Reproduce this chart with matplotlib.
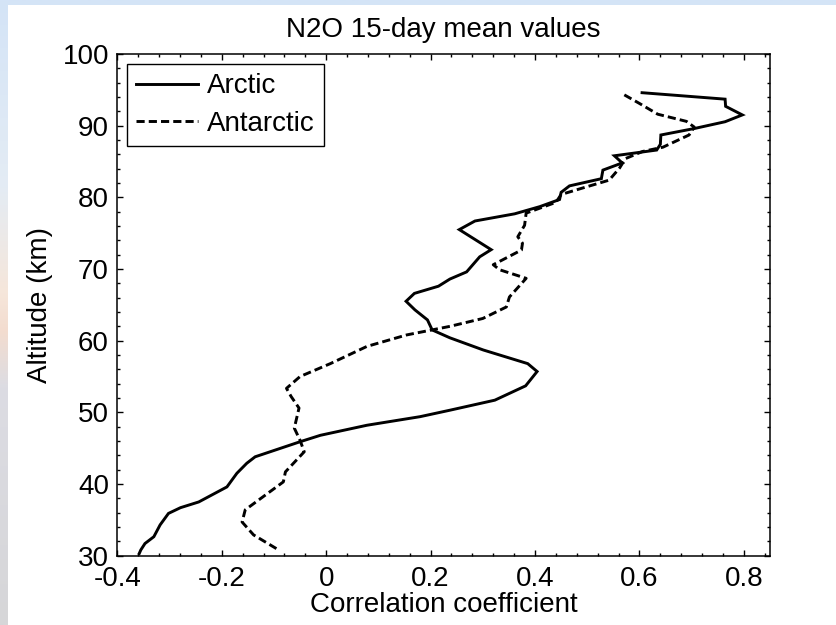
import numpy as np
import matplotlib
matplotlib.use("Agg")
import matplotlib.pyplot as plt
from matplotlib.colors import LinearSegmentedColormap
from matplotlib.patches import Rectangle
from matplotlib.ticker import MultipleLocator, FixedLocator, FixedFormatter

plt.rcParams['font.family'] = ['Liberation Sans', 'DejaVu Sans']

# Correlation profiles (correlation coefficient vs altitude in km)
arctic_corr = [0.605, 0.764, 0.765, 0.797, 0.764, 0.705, 0.641, 0.640, 0.633, 0.552,
               0.567, 0.530, 0.527, 0.466, 0.450, 0.447, 0.409, 0.361, 0.285, 0.255,
               0.316, 0.294, 0.269, 0.237, 0.215, 0.169, 0.153, 0.170, 0.194, 0.203,
               0.237, 0.301, 0.386, 0.404, 0.382, 0.323, 0.237, 0.180, 0.078, -0.011,
               -0.050, -0.136, -0.152, -0.171, -0.190, -0.244, -0.279, -0.302, -0.318,
               -0.330, -0.347, -0.355, -0.358]
arctic_alt = [94.6, 93.7, 92.7, 91.5, 90.55, 89.6, 88.7, 87.4, 86.6, 85.8,
              84.8, 83.8, 82.6, 81.6, 80.7, 79.7, 78.7, 77.7, 76.7, 75.5,
              72.7, 71.7, 69.6, 68.6, 67.6, 66.6, 65.5, 64.3, 62.9, 61.5,
              60.4, 58.7, 56.8, 55.7, 53.7, 51.7, 50.3, 49.4, 48.2, 46.8,
              45.9, 43.8, 42.9, 41.5, 39.6, 37.5, 36.7, 35.9, 34.3,
              32.65, 31.7, 30.8, 30.3]

antarctic_corr = [0.571, 0.600, 0.635, 0.690, 0.705, 0.695, 0.645, 0.606, 0.573, 0.562,
                  0.542, 0.491, 0.450, 0.440, 0.383, 0.380, 0.367, 0.376, 0.374, 0.320,
                  0.332, 0.383, 0.351, 0.345, 0.300, 0.237, 0.154, 0.078, 0.008, -0.050,
                  -0.076, -0.067, -0.052, -0.061, -0.050, -0.042, -0.078, -0.082, -0.155,
                  -0.161, -0.139, -0.091]
antarctic_alt = [94.3, 93.1, 91.6, 90.6, 89.8, 88.7, 87.0, 86.4, 85.4, 84.1,
                 82.4, 81.3, 80.4, 79.3, 77.8, 76.1, 74.5, 73.6, 72.65, 70.6,
                 69.9, 68.7, 66.1, 64.7, 63.1, 62.0, 60.8, 59.2, 56.8, 55.0,
                 53.35, 52.2, 50.6, 47.8, 46.1, 44.5, 41.7, 40.3, 36.4,
                 34.7, 32.9, 30.8]

series_names = ["Arctic", "Antarctic"]
x_ticks = [-0.4, -0.2, 0.0, 0.2, 0.4, 0.6, 0.8]
x_tick_labels = ["-0.4", "-0.2", "0", "0.2", "0.4", "0.6", "0.8"]
y_ticks = [30, 40, 50, 60, 70, 80, 90, 100]
y_tick_labels = ["30", "40", "50", "60", "70", "80", "90", "100"]

W, H = 836, 625
fig = plt.figure(figsize=(W / 100, H / 100), dpi=100)

# Slide-style backdrop: tinted gradient strip with a white panel on top
bg = fig.add_axes([0, 0, 1, 1], zorder=-10)
bg.set_axis_off()
cmap = LinearSegmentedColormap.from_list(
    "slide",
    [(0.0, "#d4e4f7"), (0.30, "#e4ecf4"), (0.47, "#f6e6da"),
     (0.53, "#f3dccf"), (0.62, "#dcdce3"), (1.0, "#d6d6d8")])
grad = np.linspace(0, 1, 256).reshape(-1, 1)
bg.imshow(grad, aspect="auto", cmap=cmap, extent=[0, 1, 0, 1], origin="upper")
bg.set_xlim(0, 1)
bg.set_ylim(0, 1)
bg.add_patch(Rectangle((8 / W, 0), 1, 1 - 5 / H, facecolor="white",
                       edgecolor="none", transform=bg.transAxes))

ax = fig.add_axes([117.3 / W, 1 - 555.7 / H, (770 - 117.3) / W, (555.7 - 54) / H])
ax.plot(arctic_corr, arctic_alt, color="black", lw=2.1, solid_joinstyle="miter",
        label=series_names[0])
ax.plot(antarctic_corr, antarctic_alt, color="black", lw=2.1, linestyle=(0, (2.8, 1.4)),
        label=series_names[1])

ax.set_xlim(-0.4, 0.85)
ax.set_ylim(30, 100)
ax.xaxis.set_major_locator(FixedLocator(x_ticks))
ax.xaxis.set_major_formatter(FixedFormatter(x_tick_labels))
ax.yaxis.set_major_locator(FixedLocator(y_ticks))
ax.yaxis.set_major_formatter(FixedFormatter(y_tick_labels))
ax.xaxis.set_minor_locator(MultipleLocator(0.04))
ax.yaxis.set_minor_locator(MultipleLocator(2))
ax.tick_params(which="both", direction="in", top=True, right=True, width=1.0,
               colors="black", labelsize=20)
ax.tick_params(axis="x", which="both", pad=7.5)
ax.tick_params(axis="y", which="both", pad=6)
ax.tick_params(which="major", length=4)
ax.tick_params(which="minor", length=2.5)
for s in ax.spines.values():
    s.set_linewidth(1.1)

ax.set_title("N2O 15-day mean values", fontsize=20, pad=12)
ax.set_xlabel("Correlation coefficient", fontsize=20, labelpad=0)
ax.set_ylabel("Altitude (km)", fontsize=20, labelpad=7)

leg = ax.legend(loc="upper left", bbox_to_anchor=(127 / W, 1 - 64 / H),
                bbox_transform=fig.transFigure, borderaxespad=0, fontsize=20,
                frameon=True, fancybox=False, framealpha=1, edgecolor="black",
                handlelength=2.23, handletextpad=0.29, borderpad=0.34,
                labelspacing=0.4)
leg.get_frame().set_linewidth(1.0)

fig.savefig("out.png", dpi=100)
